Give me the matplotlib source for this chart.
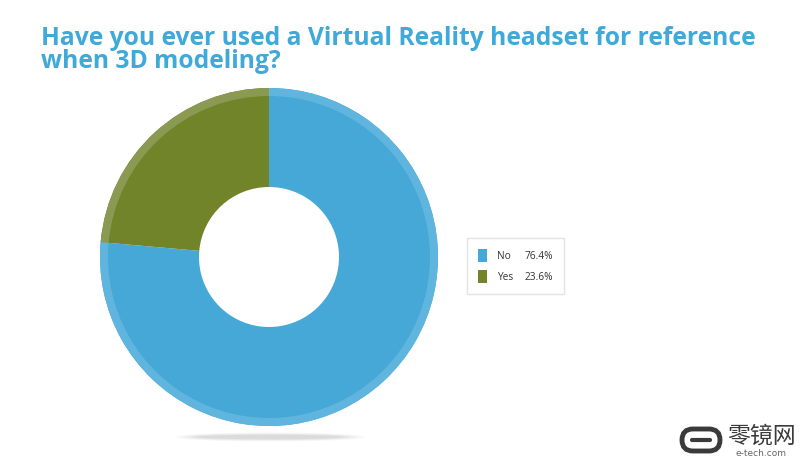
import matplotlib
matplotlib.use("Agg")
import matplotlib.pyplot as plt
from matplotlib.patches import Ellipse, FancyBboxPatch, Patch

title = "Have you ever used a Virtual Reality headset for reference\nwhen 3D modeling?"
labels = ["No", "Yes"]
values = [76.4, 23.6]
pct_labels = ["76.4%", "23.6%"]
colors = ["#45A8D6", "#728429"]
ring_colors = ["#60B5DF", "#8A9A52"]

W, H = 800, 461
fig = plt.figure(figsize=(W / 100, H / 100), dpi=100)
fig.patch.set_facecolor("white")

# title (baseline of last line)
fig.text(41 / W, 1 - 68 / H, title, ha="left", va="baseline", fontsize=17.7,
         fontweight="bold", color="#3FA9DA", family="Open Sans", linespacing=0.9,
         multialignment="left")

# background axes for shadow + watermark
bg = fig.add_axes([0, 0, 1, 1], zorder=-1)
bg.set_xlim(0, W)
bg.set_ylim(H, 0)
bg.axis("off")
for i, a in enumerate([0.05, 0.07, 0.09, 0.11]):
    w = 190 - i * 14
    h = 9 - i * 1.5
    bg.add_patch(Ellipse((270, 437), w, h, color="#888888", alpha=a, lw=0))

# pie axes
cx, cy, r = 269, 257, 169
ax = fig.add_axes([(cx - r) / W, (H - cy - r) / H, 2 * r / W, 2 * r / H])
inner = 70 / r
ax.pie(values, colors=colors, startangle=90, counterclock=False,
       radius=1, wedgeprops=dict(width=1 - inner, linewidth=0))
ax.pie(values, colors=ring_colors, startangle=90, counterclock=False,
       radius=1, wedgeprops=dict(width=8 / r, linewidth=0))
ax.set_xlim(-1, 1)
ax.set_ylim(-1, 1)
ax.set_aspect("auto")
ax.axis("off")

# legend
handles = [Patch(facecolor=c, edgecolor="none") for c in colors]
blank = [Patch(facecolor="none", edgecolor="none") for _ in colors]
leg = fig.legend(handles + blank, labels + pct_labels, ncol=2,
                 loc="center left", bbox_to_anchor=(467 / W, 1 - 266 / H),
                 frameon=True, fancybox=False, handlelength=0.9,
                 handleheight=1.6, handletextpad=1.0, columnspacing=-0.8,
                 labelspacing=0.75, borderpad=1.1, borderaxespad=0,
                 edgecolor="#DDDDDD",
                 prop={"family": "Open Sans", "size": 7.3})
for t in leg.get_texts():
    t.set_color("#333333")

# watermark
bg.add_patch(FancyBboxPatch((682, 429), 38, 22, boxstyle="round,pad=0,rounding_size=11",
                            fill=False, lw=3.5, ec="#3A3A3A", zorder=5))
bg.plot([692, 710], [440, 440], color="#3A3A3A", lw=3, solid_capstyle="round", zorder=5)
fig.text(727 / W, 1 - 436 / H, "零镜网", fontsize=16.5, color="#3A3A3A",
         family=["Noto Sans CJK SC", "DejaVu Sans"], va="center", ha="left")
fig.text(735 / W, 1 - 453 / H, "e-tech.com", fontsize=6.5, color="#666666",
         family="DejaVu Sans", va="center", ha="left")

fig.savefig("out.png", dpi=100, facecolor="white")
